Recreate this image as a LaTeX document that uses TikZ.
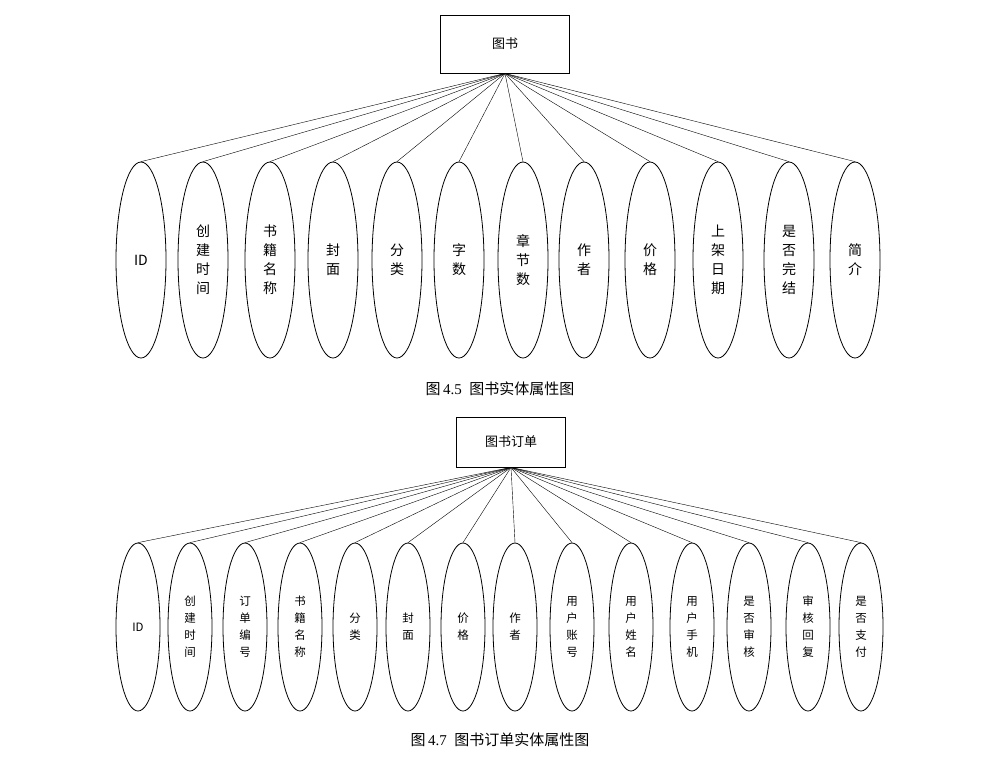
\documentclass[tikz,border=0pt]{standalone}
\usepackage{fontspec}
\setmainfont{Liberation Serif}
\newfontfamily\cjk{Noto Sans CJK SC}
\usetikzlibrary{shapes.geometric}
\begin{document}
\begin{tikzpicture}[x=1pt,y=-1pt,
  ent/.style={draw,thick,inner sep=0,font=\cjk\fontsize{13}{15}\selectfont},
  attA/.style={draw,thick,ellipse,minimum width=50,minimum height=196,inner sep=0,align=center,font=\cjk\fontsize{14}{19}\selectfont},
  attB/.style={draw,thick,ellipse,minimum width=44,minimum height=168,inner sep=0,align=center,font=\cjk\fontsize{11.5}{17}\selectfont},
  captxt/.style={font=\fontsize{15}{17}\selectfont},
  ln/.style={thin}]
\useasboundingbox (0,0) rectangle (1007,756);
\node[ent,minimum width=129,minimum height=58] (b1) at (505,44) {图书};
\foreach \x/\t [count=\i] in {141/ID,203/创\\建\\时\\间,270/书\\籍\\名\\称,333/封\\面,397/分\\类,459/字\\数,523/章\\节\\数,584/作\\者,650/价\\格,718/上\\架\\日\\期,789/是\\否\\完\\结,855/简\\介}{
  \node[attA] (a\i) at (\x,260) {\t};
  \draw[ln] (b1.south) -- (a\i.north);
}
\node[captxt] (c1) at (500,389) {{\cjk 图}\,4.5\enspace{\cjk 图书实体属性图}};
\node[ent,minimum width=109,minimum height=50] (b2) at (511,442) {图书订单};
\foreach \x/\t [count=\i] in {138/ID,190/创\\建\\时\\间,245/订\\单\\编\\号,300/书\\籍\\名\\称,355/分\\类,408/封\\面,463/价\\格,515/作\\者,572/用\\户\\账\\号,631/用\\户\\姓\\名,692/用\\户\\手\\机,749/是\\否\\审\\核,808/审\\核\\回\\复,861/是\\否\\支\\付}{
  \node[attB] (e\i) at (\x,627) {\t};
  \draw[ln] (b2.south) -- (e\i.north);
}
\node[captxt] (c2) at (500,740) {{\cjk 图}\,4.7\enspace{\cjk 图书订单实体属性图}};
\end{tikzpicture}
\end{document}
